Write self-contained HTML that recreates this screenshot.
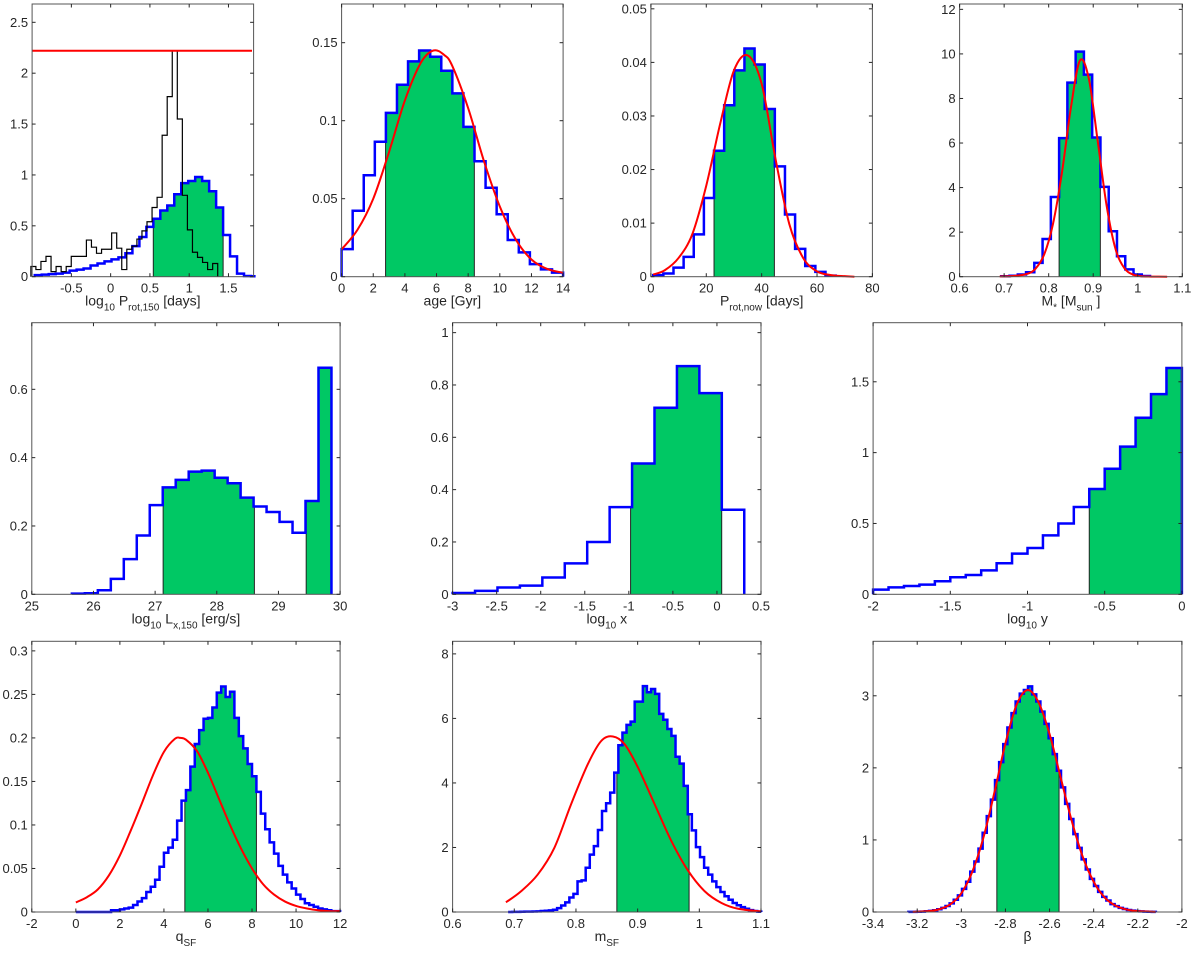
<!DOCTYPE html>
<html><head><meta charset="utf-8"><style>
html,body{margin:0;padding:0;background:#fff}
svg{display:block;font-family:"Liberation Sans",sans-serif}
</style></head><body>
<svg id="fig" width="1200" height="953" viewBox="0 0 1200 953" xmlns="http://www.w3.org/2000/svg"></svg>
<script>
// ---------- Data ----------
// Panel 1: log10 Prot,150
const p1Start = -0.966, p1Width = 0.0888;
const p1Values = [0.016,0.02,0.025,0.03,0.04,0.06,0.07,0.08,0.11,0.13,0.15,0.17,0.19,0.23,0.30,0.39,0.49,0.57,0.65,0.70,0.81,0.92,0.94,0.98,0.94,0.84,0.68,0.41,0.20,0.03,0.007,0.005];
const p1Green = [[0.543,1.432]];
const p1BlackStart = -1.016, p1BlackWidth = 0.0643;
const p1BlackValues = [0.1,0.07,0.15,0.2,0.05,0.1,0.05,0.1,0.2,0.2,0.2,0.36,0.29,0.23,0.27,0.27,0.43,0.28,0.07,0.27,0.30,0.37,0.45,0.54,0.68,0.78,1.39,1.77,2.22,1.55,0.8,0.46,0.24,0.19,0.14,0.07,0.13];
const p1PriorX = [-1, 1.8];
const p1PriorY = [2.22, 2.22];
// Panel 2: age
const p2Start = 0, p2Width = 0.7;
const p2Values = [0.0177,0.0423,0.065,0.0865,0.105,0.123,0.138,0.145,0.141,0.132,0.1175,0.096,0.074,0.057,0.040,0.0235,0.0156,0.0081,0.0047,0.0026];
const p2Green = [[2.78,8.39]];
const p2CurveX = [0,1,2,3,4,5,5.8,6.5,7,8,9,10,11,12,13,14];
const p2CurveY = [0.0175,0.03,0.05,0.08,0.113,0.137,0.145,0.142,0.135,0.108,0.074,0.045,0.024,0.011,0.005,0.0025];
// Panel 3: Prot,now
const p3Start = 0.84, p3Width = 3.66;
const p3Values = [0.0003,0.0006,0.0017,0.0037,0.0079,0.0147,0.0235,0.032,0.0385,0.0426,0.0396,0.0313,0.0206,0.0116,0.0052,0.002,0.0009,0.0002];
const p3Green = [[22.8,44.6]];
const p3CurveX = [0.8,5,10,15,20,25,30,35,40,45,50,55,60,65,70,73.5];
const p3CurveY = [0.0004,0.0012,0.0035,0.008,0.017,0.0285,0.0385,0.0413,0.036,0.022,0.0098,0.0035,0.001,0.0003,0.0001,0];
// Panel 4: M*
const p4Start = 0.6935, p4Width = 0.01856;
const p4Values = [0.02,0.04,0.1,0.2,0.62,1.69,3.58,6.22,8.71,10.1,9.07,6.25,4.03,2.04,0.92,0.33,0.1,0.03];
const p4Green = [[0.8234,0.916]];
const p4CurveX = [0.69,0.72,0.75,0.77,0.79,0.81,0.83,0.85,0.87,0.89,0.91,0.93,0.95,0.97,0.99,1.01,1.03,1.066];
const p4CurveY = [0.01,0.03,0.12,0.35,1.0,2.4,4.7,7.6,9.7,8.9,6.1,3.2,1.25,0.38,0.09,0.02,0.005,0];
// Panel 5: log10 Lx,150
const p5Start = 25.65, p5Width = 0.2105;
const p5Values = [0.002,0.003,0.012,0.045,0.103,0.172,0.261,0.313,0.335,0.359,0.362,0.341,0.325,0.283,0.257,0.241,0.212,0.180,0.273,0.663];
const p5Green = [[27.13,28.61],[29.45,29.87]];
// Panel 6: log10 x
const p6Start = -3.0, p6Width = 0.2546;
const p6Values = [0.005,0.013,0.026,0.033,0.064,0.118,0.2,0.333,0.5,0.713,0.872,0.769,0.323];
const p6Green = [[-0.98,0.054]];
// Panel 7: log10 y
const p7Start = -2.0, p7Width = 0.1;
const p7Values = [0.033,0.049,0.059,0.068,0.092,0.12,0.136,0.169,0.219,0.287,0.327,0.416,0.5,0.616,0.743,0.886,1.042,1.246,1.413,1.597];
const p7Green = [[-0.6,0]];
// Panel 8: qSF
const p8Start = 0, p8Width = 0.2;
const p8Values = [0,0,0,0,0,0,0,0,0.002,0.002,0.003,0.004,0.005,0.008,0.012,0.016,0.023,0.029,0.037,0.052,0.068,0.074,0.083,0.105,0.128,0.14,0.167,0.193,0.209,0.222,0.223,0.235,0.252,0.259,0.247,0.253,0.223,0.202,0.188,0.17,0.156,0.138,0.113,0.095,0.08,0.067,0.053,0.043,0.034,0.027,0.02,0.015,0.01,0.008,0.006,0.004,0.003,0.002,0.001,0.001];
const p8Green = [[4.95,8.2]];
const p8CurveX = [0,0.5,1,1.5,2,2.5,3,3.5,4,4.5,4.75,5,5.5,6,6.5,7,7.5,8,8.5,9,9.5,10,10.5,11,11.5,12];
const p8CurveY = [0.011,0.017,0.026,0.042,0.065,0.094,0.125,0.157,0.184,0.199,0.2,0.198,0.185,0.16,0.13,0.1,0.073,0.05,0.032,0.02,0.012,0.007,0.004,0.002,0.001,0.001];
// Panel 9: mSF
const p9Start = 0.69, p9Width = 0.00662;
const p9Values = [0,0.003,0.005,0.007,0.01,0.012,0.015,0.02,0.03,0.04,0.05,0.07,0.12,0.2,0.3,0.45,0.56,0.95,0.98,1.37,1.78,2.04,2.54,3.13,3.37,3.7,4.32,5.17,5.56,5.8,5.9,6.52,6.52,7.0,6.81,6.91,6.76,6.14,5.96,5.67,5.46,4.81,4.6,3.91,3.03,2.53,2.01,1.7,1.37,1.16,0.95,0.77,0.62,0.49,0.38,0.28,0.21,0.15,0.1,0.06,0.03,0.01];
const p9Green = [[0.8663,0.9834]];
const p9CurveX = [0.6865,0.7108,0.738,0.765,0.7921,0.8192,0.8409,0.8599,0.8789,0.9005,0.9276,0.9547,0.9818,1.0089,1.036,1.063,1.1];
const p9CurveY = [0.3,0.64,1.16,1.99,3.34,4.58,5.3,5.44,5.2,4.48,3.34,2.2,1.28,0.64,0.28,0.1,0.02];
// Panel 10: beta
const p10Start = -3.24, p10Width = 0.0187;
const p10Values = [0.001,0.002,0.004,0.006,0.010,0.016,0.025,0.038,0.058,0.083,0.12,0.17,0.23,0.32,0.42,0.56,0.70,0.88,1.10,1.33,1.56,1.83,2.08,2.33,2.56,2.76,2.92,3.03,3.08,3.13,3.02,2.92,2.78,2.61,2.41,2.19,1.96,1.73,1.50,1.29,1.08,0.89,0.73,0.59,0.46,0.36,0.28,0.21,0.16,0.11,0.081,0.058,0.041,0.028,0.019,0.013,0.008,0.005,0.003,0.002];
const p10Green = [[-2.839,-2.557]];
const p10CurveX = [-3.22,-3.15,-3.1,-3.05,-3.0,-2.95,-2.9,-2.85,-2.8,-2.75,-2.7,-2.65,-2.6,-2.55,-2.5,-2.45,-2.4,-2.35,-2.3,-2.25,-2.2,-2.12];
const p10CurveY = [0.002,0.012,0.038,0.107,0.26,0.56,1.03,1.66,2.34,2.87,3.08,2.91,2.47,1.87,1.27,0.77,0.42,0.20,0.087,0.034,0.012,0.002];

// Tick labels
const p1XTicks = [-0.5,0,0.5,1,1.5], p1YTicks = [0,0.5,1,1.5,2,2.5];
const p2XTicks = [0,2,4,6,8,10,12,14], p2YTicks = [0,0.05,0.1,0.15];
const p3XTicks = [0,20,40,60,80], p3YTicks = [0,0.01,0.02,0.03,0.04,0.05];
const p4XTicks = [0.6,0.7,0.8,0.9,1,1.1], p4YTicks = [0,2,4,6,8,10,12];
const p5XTicks = [25,26,27,28,29,30], p5YTicks = [0,0.2,0.4,0.6];
const p6XTicks = [-3,-2.5,-2,-1.5,-1,-0.5,0,0.5], p6YTicks = [0,0.2,0.4,0.6,0.8,1];
const p7XTicks = [-2,-1.5,-1,-0.5,0], p7YTicks = [0,0.5,1,1.5];
const p8XTicks = [-2,0,2,4,6,8,10,12], p8YTicks = [0,0.05,0.1,0.15,0.2,0.25,0.3];
const p9XTicks = [0.6,0.7,0.8,0.9,1,1.1], p9YTicks = [0,2,4,6,8];
const p10XTicks = [-3.4,-3.2,-3,-2.8,-2.6,-2.4,-2.2,-2], p10YTicks = [0,1,2,3];

// ---------- Drawing ----------
const NS = "http://www.w3.org/2000/svg";
const svg = document.getElementById('fig');
const GREEN = "#00c864", BLUE = "#0000ff", RED = "#ff0000", AX = "#262626";
function el(tag, attrs, parent){
  const e = document.createElementNS(NS, tag);
  for (const k in attrs) e.setAttribute(k, attrs[k]);
  (parent||svg).appendChild(e);
  return e;
}
function fmt(v){ return String(Math.round(v*1000)/1000); }

function makePanel(id, box, xlim, ylim, xt, yt, label){
  const g = el('g', {});
  
  
  const sx = v => box.l + (v - xlim[0])/(xlim[1]-xlim[0])*(box.r-box.l);
  const sy = v => box.b - (v - ylim[0])/(ylim[1]-ylim[0])*(box.b-box.t);
  const cp = el('clipPath', {id: id+'-clip'}, g);
  el('rect', {x: box.l-2, y: box.t, width: box.r-box.l+4, height: box.b-box.t+2}, cp);
  const data = el('g', {'clip-path': 'url(#'+id+'-clip)'}, g);
  
  
  // axes box
  const frame = el('rect', {x: box.l, y: box.t, width: box.r-box.l, height: box.b-box.t, fill: 'none', stroke: '#555', 'stroke-width': 1}, g);
  
  
  const tl = 3.5;
  xt.forEach(v => {
    const x = sx(v);
    el('line', {x1: x, y1: box.b, x2: x, y2: box.b - tl, stroke: AX, 'stroke-width': 1}, g);
    el('line', {x1: x, y1: box.t, x2: x, y2: box.t + tl, stroke: AX, 'stroke-width': 1}, g);
    const t = el('text', {x: x, y: box.b + 16, 'font-size': 13, fill: AX, 'text-anchor': 'middle'}, g);
    t.textContent = fmt(v);
    
    
  });
  yt.forEach(v => {
    const y = sy(v);
    el('line', {x1: box.l, y1: y, x2: box.l + tl, y2: y, stroke: AX, 'stroke-width': 1}, g);
    el('line', {x1: box.r, y1: y, x2: box.r - tl, y2: y, stroke: AX, 'stroke-width': 1}, g);
    const t = el('text', {x: box.l - 4, y: y + 4.5, 'font-size': 13, fill: AX, 'text-anchor': 'end'}, g);
    t.textContent = fmt(v);
    
    
  });
  // x label
  const lt = el('text', {x: (box.l+box.r)/2, y: box.b + 29, 'font-size': 14, fill: AX, 'text-anchor': 'middle'}, g);
  
  
  let sub = false;
  label.forEach(part => {
    const ts = el('tspan', {}, lt);
    const isSub = part[1];
    if (isSub && !sub) { ts.setAttribute('dy', 5); ts.setAttribute('font-size', 10); }
    else if (!isSub && sub) { ts.setAttribute('dy', -5); }
    else if (isSub) ts.setAttribute('font-size', 10);
    sub = isSub;
    ts.textContent = part[0];
  });
  return {sx, sy, data};
}

function hist(P, id, start, width, vals, greens, color, lw, fill){
  const n = vals.length;
  const edge = i => start + i*width;
  if (fill) {
    greens.forEach(rg => {
      const [lo, hi] = rg;
      let d = 'M' + P.sx(lo) + ',' + P.sy(0);
      let hLo = 0, hHi = 0;
      for (let i = 0; i < n; i++) {
        const a = Math.max(edge(i), lo), b = Math.min(edge(i+1), hi);
        if (a < b) {
          d += ' L' + P.sx(a) + ',' + P.sy(vals[i]) + ' L' + P.sx(b) + ',' + P.sy(vals[i]);
          if (edge(i) <= lo && lo < edge(i+1)) hLo = vals[i];
          if (edge(i) < hi && hi <= edge(i+1)) hHi = vals[i];
        }
      }
      d += ' L' + P.sx(hi) + ',' + P.sy(0) + ' Z';
      const gp = el('path', {d: d, fill: GREEN, stroke: 'none'}, P.data);
      
      
      el('line', {x1: P.sx(lo), y1: P.sy(0), x2: P.sx(lo), y2: P.sy(hLo), stroke: '#222', 'stroke-width': 1}, P.data);
      el('line', {x1: P.sx(hi), y1: P.sy(0), x2: P.sx(hi), y2: P.sy(hHi), stroke: '#222', 'stroke-width': 1}, P.data);
    });
  }
  let d = 'M' + P.sx(edge(0)) + ',' + P.sy(0);
  for (let i = 0; i < n; i++) {
    d += ' L' + P.sx(edge(i)) + ',' + P.sy(vals[i]) + ' L' + P.sx(edge(i+1)) + ',' + P.sy(vals[i]);
  }
  d += ' L' + P.sx(edge(n)) + ',' + P.sy(0);
  const hp = el('path', {d: d, fill: 'none', stroke: color, 'stroke-width': lw, 'stroke-linejoin': 'miter'}, P.data);
  
  
}

function curve(P, id, xs, ys, color, lw){
  const pts = xs.map((x, i) => [P.sx(x), P.sy(ys[i])]);
  let d = 'M' + pts[0][0] + ',' + pts[0][1];
  for (let i = 0; i < pts.length - 1; i++) {
    const p0 = pts[Math.max(i-1,0)], p1 = pts[i], p2 = pts[i+1], p3 = pts[Math.min(i+2, pts.length-1)];
    const c1 = [p1[0] + (p2[0]-p0[0])/6, p1[1] + (p2[1]-p0[1])/6];
    const c2 = [p2[0] - (p3[0]-p1[0])/6, p2[1] - (p3[1]-p1[1])/6];
    d += ' C' + c1[0] + ',' + c1[1] + ' ' + c2[0] + ',' + c2[1] + ' ' + p2[0] + ',' + p2[1];
  }
  const cp = el('path', {d: d, fill: 'none', stroke: color, 'stroke-width': lw}, P.data);
  
  
}

const R1 = {t: 4, b: 276.7}, R2 = {t: 322.7, b: 594.3}, R3 = {t: 641.3, b: 912};
let P;
P = makePanel('p1', {l: 32.1, r: 253.6, t: R1.t, b: R1.b}, [-1, 1.82], [0, 2.68], p1XTicks, p1YTicks,
  [['log',0],['10',1],[' P',0],['rot,150',1],['  [days]',0]]);
hist(P, 'p1', p1Start, p1Width, p1Values, p1Green, BLUE, 2.5, true);
hist(P, 'p1-black', p1BlackStart, p1BlackWidth, p1BlackValues, [], '#000', 1.2, false);
curve(P, 'p1', p1PriorX, p1PriorY, RED, 2);

P = makePanel('p2', {l: 341.6, r: 563.1, t: R1.t, b: R1.b}, [0, 14], [0, 0.1748], p2XTicks, p2YTicks, [['age [Gyr]',0]]);
hist(P, 'p2', p2Start, p2Width, p2Values, p2Green, BLUE, 2.5, true);
curve(P, 'p2', p2CurveX, p2CurveY, RED, 2);

P = makePanel('p3', {l: 650.9, r: 872.4, t: R1.t, b: R1.b}, [0, 80], [0, 0.0509], p3XTicks, p3YTicks,
  [['P',0],['rot,now',1],['  [days]',0]]);
hist(P, 'p3', p3Start, p3Width, p3Values, p3Green, BLUE, 2.5, true);
curve(P, 'p3', p3CurveX, p3CurveY, RED, 2);

P = makePanel('p4', {l: 959.6, r: 1182.3, t: R1.t, b: R1.b}, [0.6, 1.1], [0, 12.24], p4XTicks, p4YTicks,
  [['M',0],['*',1],[' [M',0],['sun',1],[' ]',0]]);
hist(P, 'p4', p4Start, p4Width, p4Values, p4Green, BLUE, 2.5, true);
curve(P, 'p4', p4CurveX, p4CurveY, RED, 2);

P = makePanel('p5', {l: 31.8, r: 340.1, t: R2.t, b: R2.b}, [25, 30], [0, 0.795], p5XTicks, p5YTicks,
  [['log',0],['10',1],[' L',0],['x,150',1],['  [erg/s]',0]]);
hist(P, 'p5', p5Start, p5Width, p5Values, p5Green, BLUE, 2.5, true);

P = makePanel('p6', {l: 452.6, r: 761, t: R2.t, b: R2.b}, [-3, 0.5], [0, 1.038], p6XTicks, p6YTicks,
  [['log',0],['10',1],[' x',0]]);
hist(P, 'p6', p6Start, p6Width, p6Values, p6Green, BLUE, 2.5, true);

P = makePanel('p7', {l: 873.1, r: 1181.9, t: R2.t, b: R2.b}, [-2, 0], [0, 1.917], p7XTicks, p7YTicks,
  [['log',0],['10',1],[' y',0]]);
hist(P, 'p7', p7Start, p7Width, p7Values, p7Green, BLUE, 2.5, true);

P = makePanel('p8', {l: 31.8, r: 340.1, t: R3.t, b: R3.b}, [-2, 12], [0, 0.311], p8XTicks, p8YTicks,
  [['q',0],['SF',1]]);
hist(P, 'p8', p8Start, p8Width, p8Values, p8Green, BLUE, 2.5, true);
curve(P, 'p8', p8CurveX, p8CurveY, RED, 2);

P = makePanel('p9', {l: 452.6, r: 761, t: R3.t, b: R3.b}, [0.6, 1.1], [0, 8.39], p9XTicks, p9YTicks,
  [['m',0],['SF',1]]);
hist(P, 'p9', p9Start, p9Width, p9Values, p9Green, BLUE, 2.5, true);
curve(P, 'p9', p9CurveX, p9CurveY, RED, 2);

P = makePanel('p10', {l: 873.1, r: 1181.9, t: R3.t, b: R3.b}, [-3.4, -2], [0, 3.756], p10XTicks, p10YTicks,
  [['β',0]]);
hist(P, 'p10', p10Start, p10Width, p10Values, p10Green, BLUE, 2.5, true);
curve(P, 'p10', p10CurveX, p10CurveY, RED, 2);
</script>
</body></html>
